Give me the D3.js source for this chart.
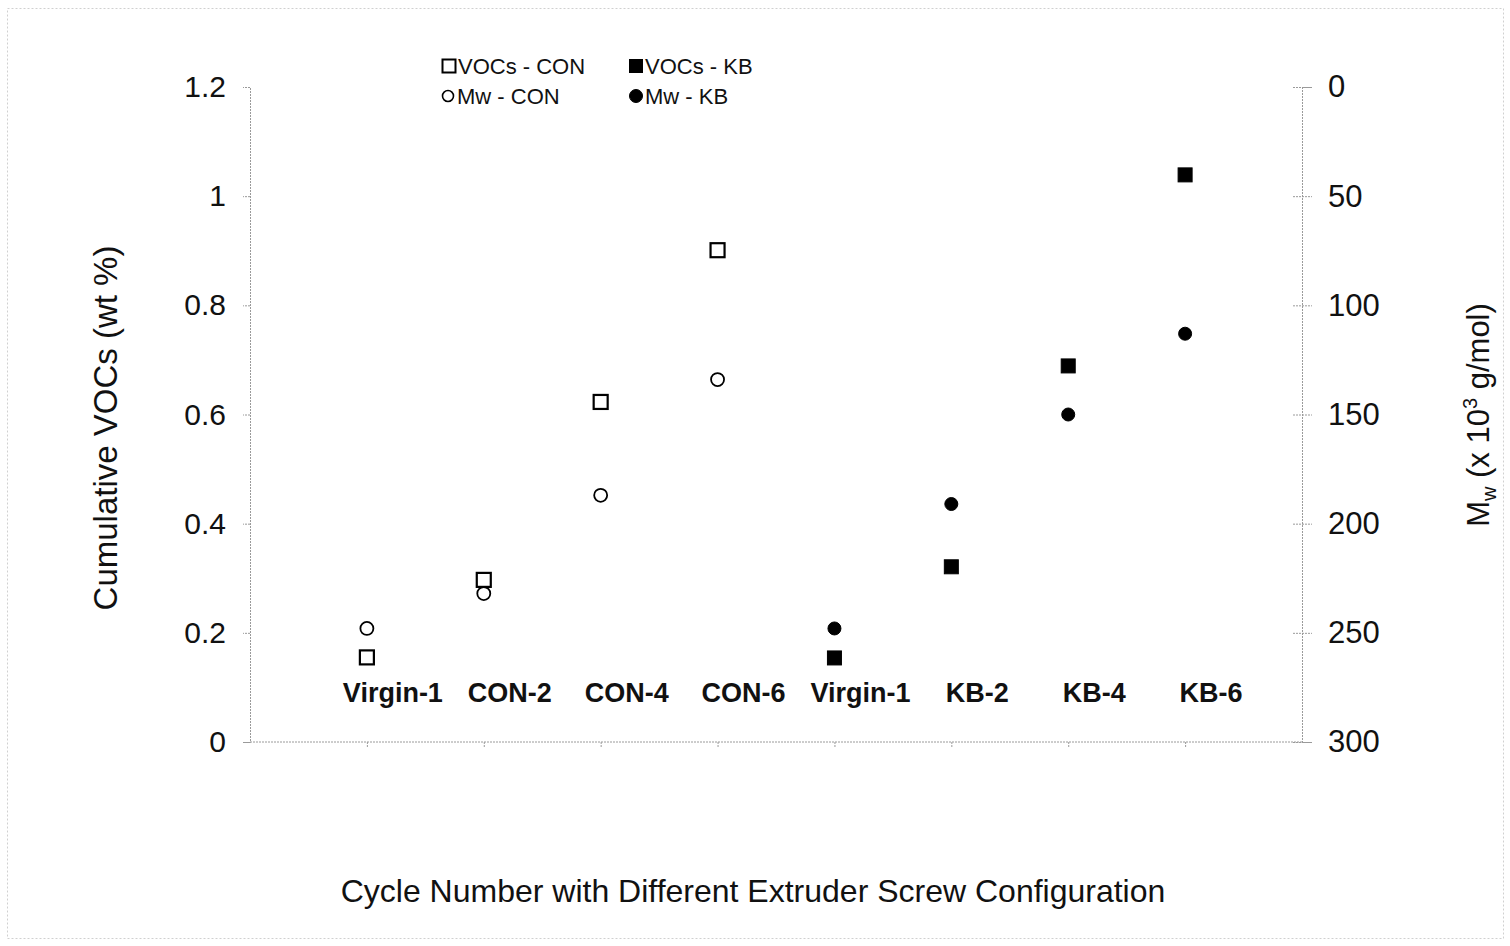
<!DOCTYPE html>
<html>
<head>
<meta charset="utf-8">
<script src="https://cdn.jsdelivr.net/npm/d3@7"></script>
<style>
  body { margin: 0; background: #fff; }
  text { font-family: "Liberation Sans", Arial, sans-serif; }
</style>
</head>
<body>
<div id="chart"></div>
<script>
// categories along the x axis (Virgin-1 appears twice)
const categories = ["Virgin-1", "CON-2", "CON-4", "CON-6", "Virgin-1", "KB-2", "KB-4", "KB-6"];

// VOCs (wt %) and Mw (x 10^3 g/mol)
const vocsCon = [0.155, 0.297, 0.623, 0.901, null, null, null, null];
const vocsKb = [null, null, null, null, 0.154, 0.321, 0.689, 1.039];
const mwCon = [248, 232, 187, 134, null, null, null, null];
const mwKb = [null, null, null, null, 248, 191, 150, 113];

const leftTicks = [0, 0.2, 0.4, 0.6, 0.8, 1, 1.2];
const rightTicks = [0, 50, 100, 150, 200, 250, 300];

const width = 1510;
const height = 946;
const marginTop = 87;
const marginRight = 208;
const marginBottom = 204;
const marginLeft = 250;

const svg = d3.create("svg").attr("width", width).attr("height", height);

// faint outer frame
svg.append("rect")
  .attr("x", 7.5).attr("y", 8.5)
  .attr("width", width - 14).attr("height", height - 16)
  .attr("fill", "none")
  .attr("stroke", "#d0d0d0")
  .attr("stroke-dasharray", "2,2");

const x = d3.scalePoint()
  .domain(d3.range(categories.length))
  .range([marginLeft, width - marginRight])
  .padding(1);

const yLeft = d3.scaleLinear().domain([0, 1.2]).range([height - marginBottom, marginTop]);
const yRight = d3.scaleLinear().domain([0, 300]).range([marginTop, height - marginBottom]);

const axisColor = "#9a9a9a";

// left axis
svg.append("g")
  .attr("transform", `translate(${marginLeft},0)`)
  .call(d3.axisLeft(yLeft).tickValues(leftTicks).tickSize(7).tickPadding(17).tickFormat(d3.format("~g")))
  .call(g => g.selectAll("line, path").attr("stroke", axisColor).attr("stroke-dasharray", "2,1"))
  .call(g => g.selectAll("text").attr("font-size", 30).attr("fill", "#111"));

// right axis (reversed)
svg.append("g")
  .attr("transform", `translate(${width - marginRight},0)`)
  .call(d3.axisRight(yRight).tickValues(rightTicks).tickSize(10).tickPadding(16))
  .call(g => g.selectAll("line, path").attr("stroke", axisColor).attr("stroke-dasharray", "2,1"))
  .call(g => g.selectAll(".tick line").attr("x1", -9))
  .call(g => g.selectAll("text").attr("font-size", 31).attr("fill", "#111"));

// bottom axis line with small category ticks
svg.append("g")
  .attr("transform", `translate(0,${height - marginBottom})`)
  .call(d3.axisBottom(x).tickSize(5).tickFormat(""))
  .call(g => g.select(".domain").attr("d", `M${marginLeft},0H${width - marginRight}`))
  .call(g => g.selectAll("line, path").attr("stroke", axisColor).attr("stroke-dasharray", "2,1"));

// category labels inside the plot (offset to the right of each point, as in the original)
svg.append("g")
  .selectAll("text")
  .data(categories)
  .join("text")
  .attr("x", (d, i) => x(i) + 26)
  .attr("y", 702)
  .attr("text-anchor", "middle")
  .attr("font-size", 27)
  .attr("font-weight", "bold")
  .attr("fill", "#111")
  .text(d => d);

const sq = 14;
const r = 6.5;

function squares(values, filled) {
  svg.append("g")
    .selectAll("rect")
    .data(values.map((v, i) => ({ v, i })).filter(d => d.v != null))
    .join("rect")
    .attr("x", d => x(d.i) - sq / 2)
    .attr("y", d => yLeft(d.v) - sq / 2)
    .attr("width", sq).attr("height", sq)
    .attr("fill", filled ? "#000" : "#fff")
    .attr("stroke", "#000")
    .attr("stroke-width", filled ? 1 : 2.2);
}

function circles(values, filled) {
  svg.append("g")
    .selectAll("circle")
    .data(values.map((v, i) => ({ v, i })).filter(d => d.v != null))
    .join("circle")
    .attr("cx", d => x(d.i))
    .attr("cy", d => yRight(d.v))
    .attr("r", r)
    .attr("fill", filled ? "#000" : "#fff")
    .attr("stroke", "#000")
    .attr("stroke-width", filled ? 1 : 1.8);
}

circles(mwCon, false);
squares(vocsCon, false);
circles(mwKb, true);
squares(vocsKb, true);

// axis titles
svg.append("text")
  .attr("transform", "translate(117,428) rotate(-90)")
  .attr("text-anchor", "middle")
  .attr("font-size", 33)
  .attr("fill", "#111")
  .text("Cumulative VOCs (wt %)");

const rt = svg.append("text")
  .attr("transform", "translate(1489,415) rotate(-90)")
  .attr("text-anchor", "middle")
  .attr("font-size", 31)
  .attr("fill", "#111");
rt.append("tspan").text("M");
rt.append("tspan").attr("font-size", 20).attr("dy", 7).text("w");
rt.append("tspan").attr("dy", -7).text(" (x 10");
rt.append("tspan").attr("font-size", 20).attr("dy", -12).text("3");
rt.append("tspan").attr("dy", 12).text(" g/mol)");

svg.append("text")
  .attr("x", 753)
  .attr("y", 902)
  .attr("text-anchor", "middle")
  .attr("font-size", 32)
  .attr("fill", "#111")
  .text("Cycle Number with Different Extruder Screw Configuration");

// legend
const legendItems = [
  { label: "VOCs - CON", shape: "square", filled: false, lx: 449, ly: 66 },
  { label: "VOCs - KB", shape: "square", filled: true, lx: 636, ly: 66 },
  { label: "Mw - CON", shape: "circle", filled: false, lx: 448, ly: 96 },
  { label: "Mw - KB", shape: "circle", filled: true, lx: 636, ly: 96 }
];

const legend = svg.append("g");
legendItems.forEach(item => {
  if (item.shape === "square") {
    legend.append("rect")
      .attr("x", item.lx - 6.5).attr("y", item.ly - 6.5)
      .attr("width", 13).attr("height", 13)
      .attr("fill", item.filled ? "#000" : "#fff")
      .attr("stroke", "#000")
      .attr("stroke-width", item.filled ? 1 : 2);
  } else {
    legend.append("circle")
      .attr("cx", item.lx).attr("cy", item.ly)
      .attr("r", item.filled ? 6.5 : 5.5)
      .attr("fill", item.filled ? "#000" : "#fff")
      .attr("stroke", "#000")
      .attr("stroke-width", item.filled ? 1 : 1.6);
  }
  legend.append("text")
    .attr("x", item.lx + 9)
    .attr("y", item.ly + 8)
    .attr("font-size", 22)
    .attr("fill", "#111")
    .text(item.label);
});

d3.select("#chart").node().appendChild(svg.node());
</script>
</body>
</html>
